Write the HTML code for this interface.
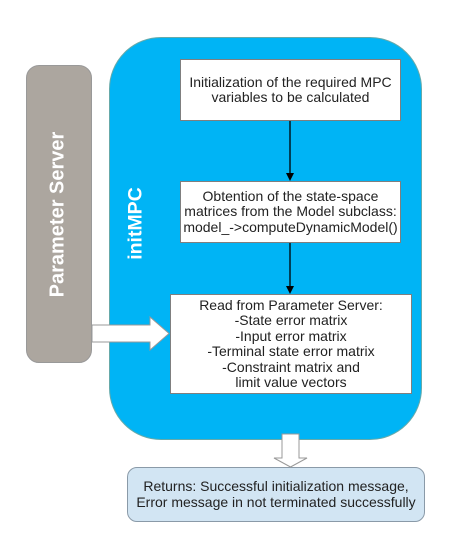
<!DOCTYPE html>
<html><head><style>
body{margin:0;width:454px;height:542px;background:#fff;position:relative;font-family:"Liberation Sans",Arial,sans-serif;overflow:hidden}
div{position:absolute;box-sizing:border-box}
.box{background:#fff;border:1px solid #7f7f7f;text-align:center;font-size:14px;color:#222;line-height:15.5px;display:flex;align-items:center;justify-content:center;white-space:nowrap}
</style></head><body>
<div style="left:109px;top:37px;width:313px;height:403px;background:#00b4f5;border:1px solid #6aa;border-radius:52px"></div>
<div style="left:26px;top:65px;width:66px;height:298px;background:#aca69f;border:1px solid #999;border-radius:13px"></div>
<div style="left:58px;top:215px;width:0;height:0"><div style="left:-110px;top:-12px;width:220px;text-align:center;color:#fff;font-weight:bold;font-size:20px;transform:rotate(-90deg)">Parameter Server</div></div>
<div style="left:136px;top:223px;width:0;height:0"><div style="left:-60px;top:-11px;width:120px;text-align:center;color:#fff;font-weight:bold;font-size:19.5px;transform:rotate(-90deg)">initMPC</div></div>
<div class="box" style="left:180px;top:59px;width:221px;height:62px">Initialization of the required MPC<br>variables to be calculated</div>
<div class="box" style="left:180px;top:181px;width:221px;height:62px">Obtention of the state-space<br>matrices from the Model subclass:<br>model_-&gt;computeDynamicModel()</div>
<div class="box" style="left:170px;top:294px;width:242px;height:100px">Read from Parameter Server:<br>-State error matrix<br>-Input error matrix<br>-Terminal state error matrix<br>-Constraint matrix and<br>limit value vectors</div>
<div style="left:127px;top:467px;width:298px;height:55px;background:#d2e5f3;border:1px solid #8a9aa8;border-radius:10px;font-size:14px;color:#222;text-align:center;line-height:15.5px;display:flex;align-items:center;justify-content:center;white-space:nowrap">Returns: Successful initialization message,<br>Error message in not terminated successfully</div>
<svg width="454" height="542" style="position:absolute;left:0;top:0">
<line x1="290" y1="121" x2="290" y2="174" stroke="#000" stroke-width="1.3"/>
<polygon points="286,173 294,173 290,181" fill="#000"/>
<line x1="290" y1="243" x2="290" y2="287" stroke="#000" stroke-width="1.3"/>
<polygon points="286,286 294,286 290,294" fill="#000"/>
<polygon points="92,325 150,325 150,317 169,333.5 150,350 150,342 92,342" fill="#fff" stroke="#999" stroke-width="1"/>
<polygon points="282,434 299,434 299,458 307,458 290.5,467 274,458 282,458" fill="#fff" stroke="#999" stroke-width="1"/>
</svg>
</body></html>
